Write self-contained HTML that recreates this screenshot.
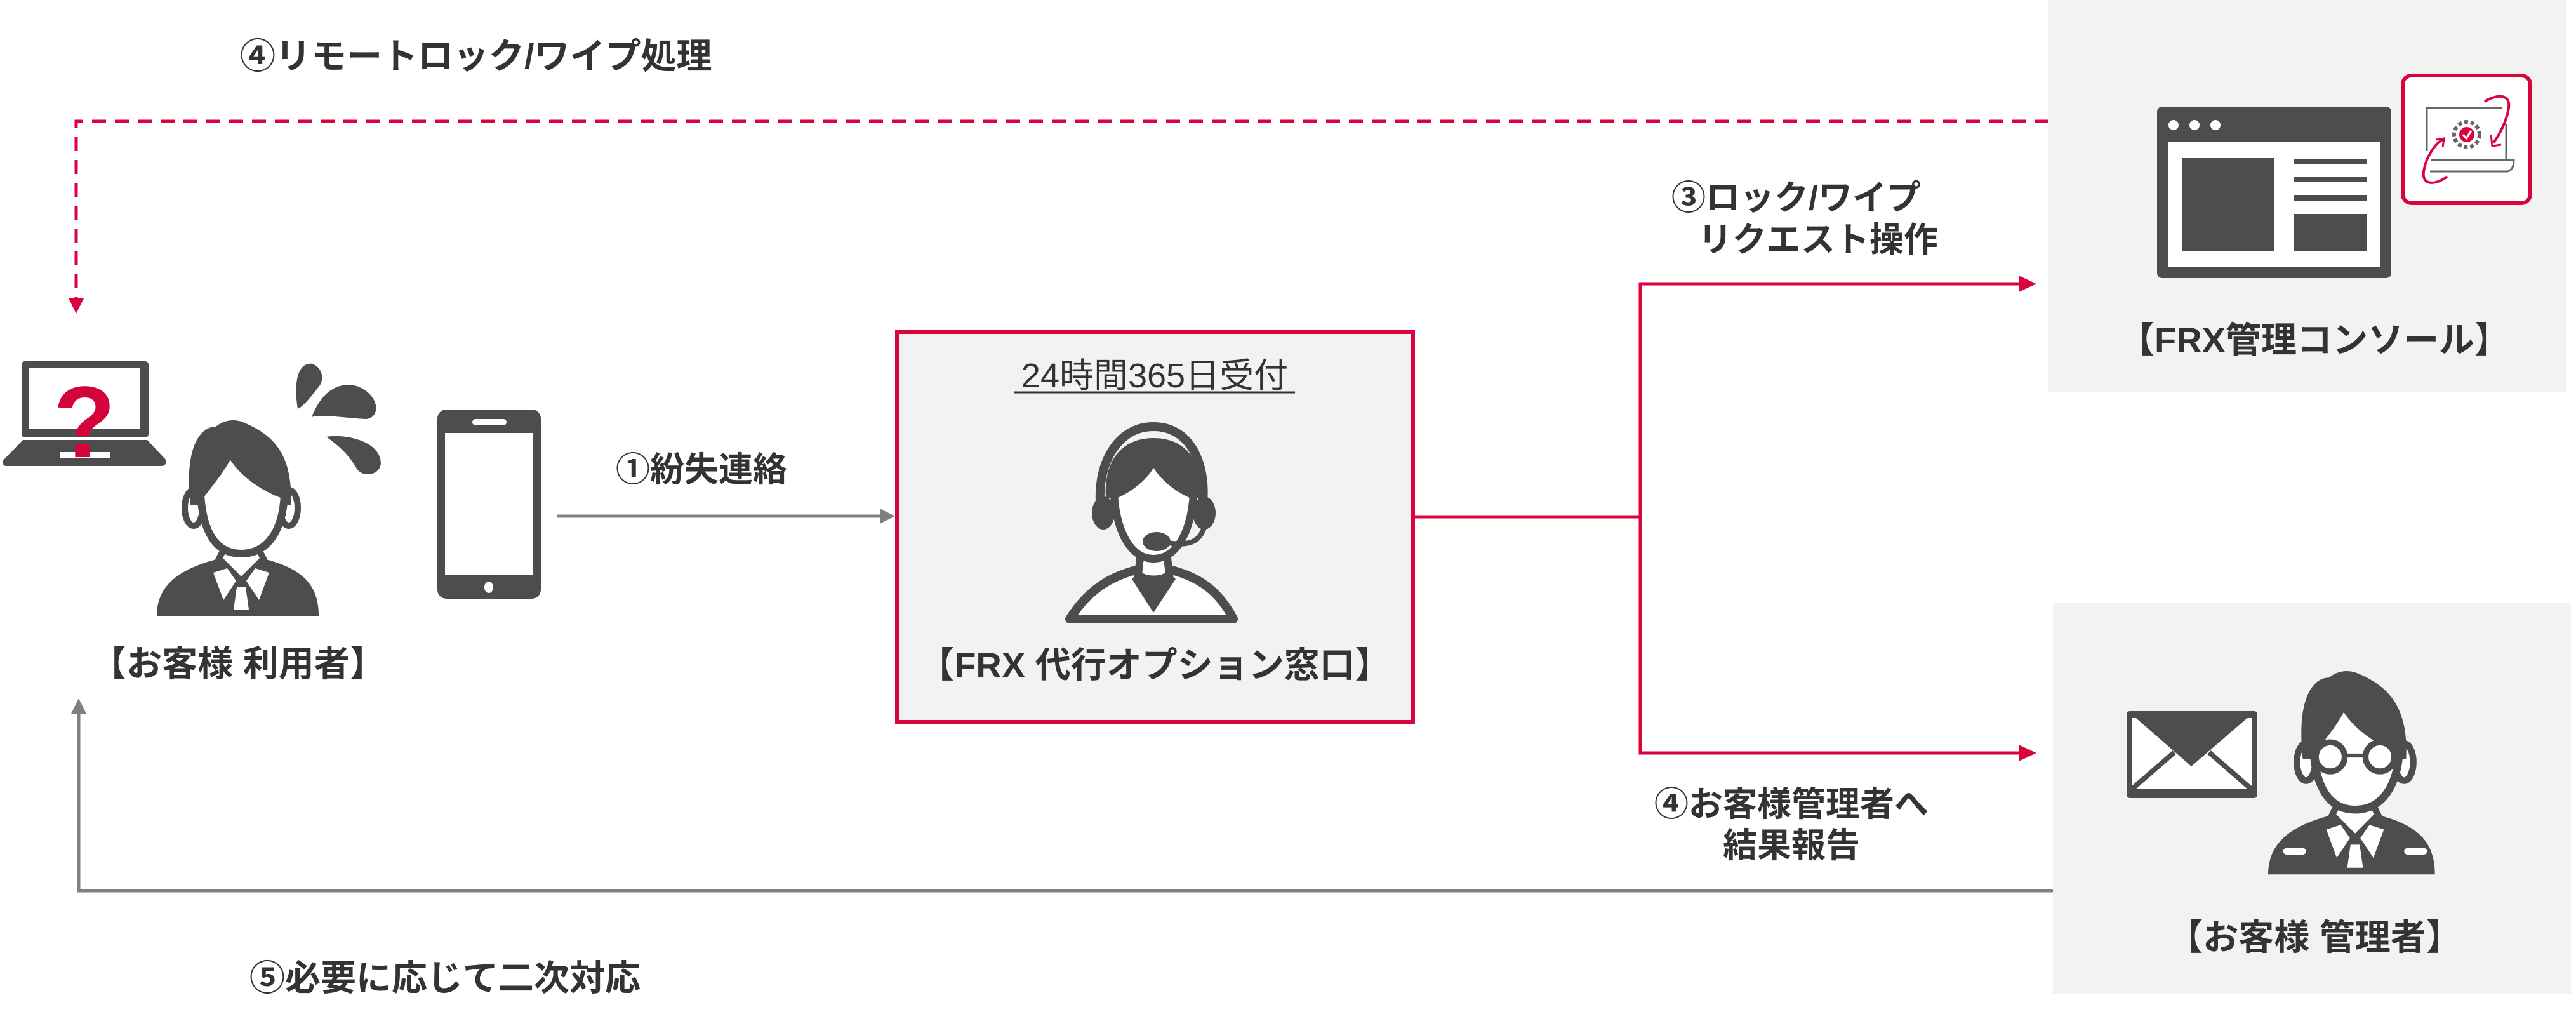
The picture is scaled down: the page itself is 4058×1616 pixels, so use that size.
<!DOCTYPE html>
<html><head><meta charset="utf-8"><style>
html,body{margin:0;padding:0;background:#fff}
svg{display:block}
text{font-family:"Liberation Sans","Noto Sans CJK JP",sans-serif;fill:#333}
.b{font-weight:bold}
</style></head><body>
<svg width="4058" height="1616" viewBox="0 0 4058 1616" xmlns="http://www.w3.org/2000/svg">
<defs>
<g id="person">
<path d="M247,970 C247,920 285,895 345,880 L415,880 C475,895 502,920 502,970 Z" fill="#4d4d4d"/>
<path d="M345,880 L380,915 L415,880 L405,860 L355,860 Z" fill="#fff" stroke="#4d4d4d" stroke-width="10"/>
<path d="M336,902 L358,895 L372,915 L352,945 Z M424,902 L402,895 L388,915 L408,945 Z" fill="#fff"/>
<path d="M373,925 L387,925 L392,960 L368,960 Z" fill="#fff"/>
<ellipse cx="305" cy="800" rx="14" ry="28" fill="#fff" stroke="#4d4d4d" stroke-width="10"/>
<ellipse cx="455" cy="800" rx="14" ry="28" fill="#fff" stroke="#4d4d4d" stroke-width="10"/>
<path d="M300,795 C290,705 315,672 340,672 C355,660 372,660 385,666 C430,685 462,715 458,795 Z" fill="#4d4d4d"/>
<path d="M316,780 C335,755 352,735 362,712 C380,745 415,768 448,780 C445,838 420,872 380,872 C340,872 320,838 316,780 Z" fill="#fff" stroke="#4d4d4d" stroke-width="12" stroke-linejoin="round"/>
</g>
</defs>

<rect x="3227" y="0" width="816" height="618" fill="#f2f2f2"/>
<rect x="3234" y="950" width="816" height="616" fill="#f2f2f2"/>

<text x="378" y="108" font-size="56" class="b">④リモートロック/ワイプ処理</text>
<path d="M3227,191 L120,191 L120,478" fill="none" stroke="#d9043d" stroke-width="5" stroke-dasharray="22,14"/>
<path d="M108,470 L132,470 L120,494 Z" fill="#d9043d"/>

<rect x="34" y="569" width="200" height="120" rx="5" fill="#4d4d4d"/>
<rect x="46" y="580" width="174" height="96" fill="#fff"/>
<path d="M36,693 L232,693 L262,725 Q262,734 254,734 L10,734 Q3,734 5,725 Z" fill="#4d4d4d"/>
<rect x="95" y="712" width="78" height="10" fill="#fff"/>
<text x="133" y="720" font-size="160" font-weight="bold" text-anchor="middle" style="fill:#d4043b;font-family:'Liberation Sans',sans-serif">?</text>

<use href="#person"/>
<path d="M469,644 C462,600 470,570 492,573 C510,580 510,600 503,608 C490,625 478,640 469,644 Z" fill="#4d4d4d"/>
<path d="M491,657 C505,620 530,600 562,608 C600,622 600,660 575,660 C540,658 505,652 491,657 Z" fill="#4d4d4d"/>
<path d="M514,688 C545,683 600,695 600,730 C598,750 570,752 562,738 C545,710 530,700 514,688 Z" fill="#4d4d4d"/>

<rect x="689" y="645" width="163" height="298" rx="14" fill="#4d4d4d"/>
<rect x="701" y="682" width="138" height="224" fill="#fff"/>
<rect x="744" y="660" width="54" height="10" rx="5" fill="#fff"/>
<ellipse cx="770" cy="925" rx="7" ry="9" fill="#fff"/>

<text x="375" y="1065" font-size="56" class="b" text-anchor="middle">【お客様 利用者】</text>

<line x1="878" y1="813" x2="1392" y2="813" stroke="#808080" stroke-width="5"/>
<path d="M1386,801 L1410,813 L1386,825 Z" fill="#808080"/>
<text x="970" y="758" font-size="54" class="b">①紛失連絡</text>

<rect x="1413" y="523" width="813" height="614" fill="#f2f2f2" stroke="#d9043d" stroke-width="6"/>
<text x="1819" y="610" font-size="54" text-anchor="middle">24時間365日受付</text>
<line x1="1598" y1="618" x2="2040" y2="618" stroke="#333" stroke-width="3"/>
<path d="M1685,975 C1720,920 1760,905 1800,895 L1835,895 C1875,905 1915,920 1943,975 Z" fill="#fff" stroke="#4d4d4d" stroke-width="14" stroke-linejoin="round"/>
<path d="M1783,912 L1817,965 L1852,912 L1840,900 L1795,900 Z" fill="#4d4d4d"/>
<path d="M1797,870 L1793,905 C1805,915 1830,915 1842,905 L1838,870" fill="#fff" stroke="#4d4d4d" stroke-width="12"/>
<path d="M1733,790 C1730,730 1760,672 1817,672 C1875,672 1900,730 1895,790" fill="none" stroke="#4d4d4d" stroke-width="14"/>
<path d="M1742,785 C1738,722 1770,690 1817,690 C1865,690 1895,722 1892,785 Z" fill="#4d4d4d"/>
<path d="M1755,780 C1780,770 1805,750 1817,725 C1830,750 1855,770 1880,780 C1875,845 1850,880 1817,880 C1785,880 1760,845 1755,780 Z" fill="#fff" stroke="#4d4d4d" stroke-width="12" stroke-linejoin="round"/>
<ellipse cx="1738" cy="808" rx="18" ry="26" fill="#4d4d4d"/>
<ellipse cx="1897" cy="808" rx="18" ry="26" fill="#4d4d4d"/>
<path d="M1897,830 C1890,855 1870,860 1840,855" fill="none" stroke="#4d4d4d" stroke-width="8"/>
<ellipse cx="1822" cy="853" rx="22" ry="15" fill="#4d4d4d"/>
<text x="1819" y="1067" font-size="56" class="b" text-anchor="middle">【FRX 代行オプション窓口】</text>

<polyline points="2229,814 2584,814" fill="none" stroke="#d9043d" stroke-width="5"/>
<polyline points="3200,447 2584,447 2584,1186 3200,1186" fill="none" stroke="#d9043d" stroke-width="5"/>
<path d="M3180,434 L3208,447 L3180,460 Z" fill="#d9043d"/>
<path d="M3180,1173 L3208,1186 L3180,1199 Z" fill="#d9043d"/>
<text x="2633" y="330" font-size="54" class="b">③ロック/ワイプ</text>
<text x="2675" y="396" font-size="54" class="b">リクエスト操作</text>
<text x="2606" y="1285" font-size="54" class="b">④お客様管理者へ</text>
<text x="2714" y="1350" font-size="54" class="b">結果報告</text>

<rect x="3398" y="168" width="369" height="270" rx="8" fill="#4d4d4d"/>
<rect x="3415" y="223" width="335" height="198" fill="#fff"/>
<circle cx="3424" cy="197" r="8" fill="#fff"/><circle cx="3457" cy="197" r="8" fill="#fff"/><circle cx="3490" cy="197" r="8" fill="#fff"/>
<rect x="3437" y="249" width="145" height="146" fill="#4d4d4d"/>
<rect x="3613" y="250" width="115" height="9" fill="#4d4d4d"/>
<rect x="3613" y="278" width="115" height="9" fill="#4d4d4d"/>
<rect x="3613" y="307" width="115" height="9" fill="#4d4d4d"/>
<rect x="3613" y="337" width="115" height="58" fill="#4d4d4d"/>
<rect x="3785" y="119" width="201" height="201" rx="14" fill="#fff" stroke="#d9043d" stroke-width="6"/>
<path d="M3823,238 L3823,170 L3942,170" fill="none" stroke="#666" stroke-width="3"/>
<path d="M3948,196 L3948,252 L3830,252" fill="none" stroke="#666" stroke-width="3"/>
<path d="M3828,270 L3950,270 Q3960,268 3960,252 L3950,252" fill="none" stroke="#666" stroke-width="3"/>
<circle cx="3886" cy="212" r="20" fill="none" stroke="#666" stroke-width="6" stroke-dasharray="6,4"/>
<circle cx="3886" cy="212" r="12" fill="#d9043d"/>
<path d="M3880,212 L3885,218 L3893,206" fill="none" stroke="#fff" stroke-width="3"/>
<path d="M3914,160 C3930,150 3955,145 3952,170 C3948,195 3935,215 3928,225" fill="none" stroke="#d9043d" stroke-width="4"/>
<path d="M3924,212 L3926,230 L3940,228" fill="none" stroke="#d9043d" stroke-width="3"/>
<path d="M3855,278 C3840,290 3815,295 3818,270 C3822,245 3838,225 3848,220" fill="none" stroke="#d9043d" stroke-width="4"/>
<path d="M3838,220 L3850,218 L3848,232" fill="none" stroke="#d9043d" stroke-width="3"/>
<text x="3646" y="555" font-size="56" class="b" text-anchor="middle">【FRX管理コンソール】</text>

<rect x="3350" y="1120" width="206" height="137" rx="5" fill="#4d4d4d"/>
<path d="M3358,1131 L3547,1131 L3547,1242 L3358,1242 Z" fill="#fff"/>
<path d="M3358,1125 L3452,1207 L3547,1125 Z" fill="#4d4d4d"/>
<path d="M3356,1245 L3425,1185 M3549,1245 L3480,1185" stroke="#4d4d4d" stroke-width="8"/>
<g transform="translate(3710,1190) scale(1.03,1.04) translate(-380,-790)">
<use href="#person"/>
<rect x="270" y="930" width="35" height="10" rx="5" fill="#fff"/>
<rect x="455" y="930" width="35" height="10" rx="5" fill="#fff"/>
<circle cx="342" cy="792" r="22" fill="#fff" stroke="#4d4d4d" stroke-width="9"/>
<circle cx="418" cy="792" r="22" fill="#fff" stroke="#4d4d4d" stroke-width="9"/>
<line x1="364" y1="790" x2="396" y2="790" stroke="#4d4d4d" stroke-width="6"/>
</g>
<text x="3646" y="1496" font-size="56" class="b" text-anchor="middle">【お客様 管理者】</text>

<polyline points="3234,1403 124,1403 124,1120" fill="none" stroke="#808080" stroke-width="5"/>
<path d="M112,1124 L124,1100 L136,1124 Z" fill="#808080"/>
<text x="393" y="1560" font-size="56" class="b">⑤必要に応じて二次対応</text>
</svg>
</body></html>
